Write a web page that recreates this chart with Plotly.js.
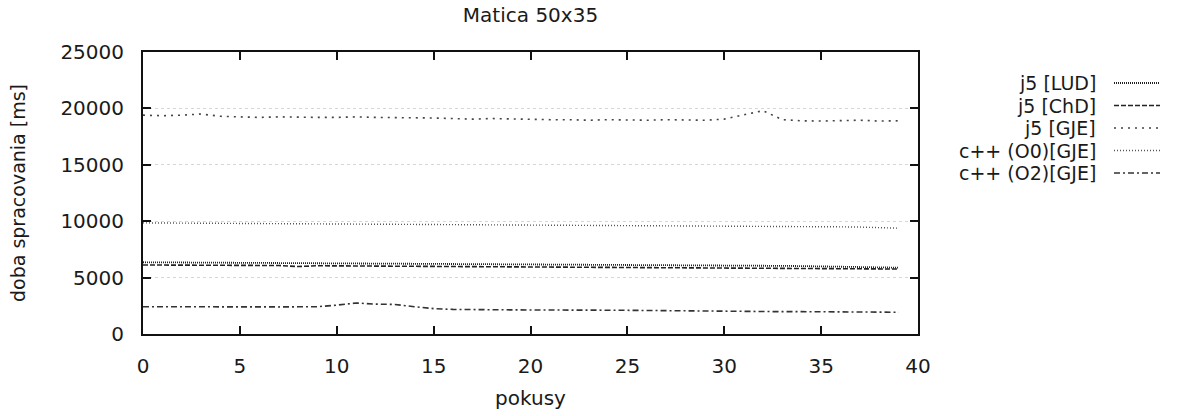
<!DOCTYPE html>
<html>
<head>
<meta charset="utf-8">
<script src="https://cdn.plot.ly/plotly-3.0.1.min.js"></script>
<style>html,body{margin:0;padding:0;background:#fff;}#chart{width:1183px;height:416px;}</style>
</head>
<body>
<div id="chart"></div>
<script>
// attempts (pokusy)
const attempts = [0,1,2,3,4,5,6,7,8,9,10,11,12,13,14,15,16,17,18,19,20,21,22,23,24,25,26,27,28,29,30,31,32,33,34,35,36,37,38,39];

const seriesNames = ["j5 [LUD]", "j5 [ChD]", "j5 [GJE]", "c++ (O0)[GJE]", "c++ (O2)[GJE]"];

const j5LUD = [6360,6350,6340,6350,6330,6320,6330,6300,6310,6290,6300,6280,6270,6280,6260,6250,6260,6240,6230,6220,6210,6220,6200,6190,6180,6170,6160,6140,6120,6100,6090,6070,6050,6040,6020,6000,5980,5950,5920,5880];
const j5ChD = [6120,6110,6100,6110,6090,6080,6090,6070,5980,6050,6040,6030,6030,6020,6010,6000,6000,5990,5990,5980,5980,5970,5960,5960,5950,5940,5930,5920,5910,5900,5890,5880,5870,5860,5850,5840,5820,5800,5780,5760];
const j5GJE = [19400,19350,19400,19500,19300,19250,19200,19250,19200,19200,19200,19250,19200,19200,19150,19150,19100,19050,19100,19050,19050,19000,19000,18950,19000,18950,18950,19000,18950,18950,19050,19400,19800,19000,18900,18880,18900,18950,18880,18900];
const cppO0GJE = [9850,9840,9830,9840,9820,9810,9820,9800,9800,9780,9790,9780,9770,9770,9760,9750,9750,9740,9730,9720,9700,9700,9690,9680,9680,9660,9650,9640,9630,9610,9600,9580,9570,9560,9540,9520,9500,9480,9440,9380];
const cppO2GJE = [2420,2410,2420,2400,2410,2400,2420,2400,2410,2420,2560,2750,2650,2620,2420,2250,2180,2150,2150,2140,2130,2140,2120,2130,2110,2100,2080,2050,2040,2020,2000,1990,1990,1980,1980,1970,1960,1950,1940,1930];

const seriesValues = [j5LUD, j5ChD, j5GJE, cppO0GJE, cppO2GJE];
const seriesDash = ["1px,1px", "5px,2px", "2px,5px", "1px,2px", "6px,3px,2px,3px"];
const seriesColor = ["#222", "#222", "#444", "#555", "#333"];
const seriesWidth = [1.8, 1.6, 1.6, 1.4, 1.6];

const xTicks = [0,5,10,15,20,25,30,35,40];
const yTicks = [0,5000,10000,15000,20000,25000];

const FONT = "DejaVu Sans, Liberation Sans, Arial, sans-serif";
const TXT = "#1a1a1a";

const traces = seriesValues.map((vals, i) => ({
  x: attempts,
  y: vals,
  type: "scatter",
  mode: "lines",
  name: seriesNames[i],
  showlegend: false,
  line: {color: seriesColor[i], width: seriesWidth[i], dash: seriesDash[i]}
}));

// plot area in px: left 143, right 918, top 52, bottom 334
const L = 143, R = 918, T = 52, B = 334;
const px2paperX = p => (p - L) / (R - L);
const px2paperY = p => (B - p) / (B - T);

const legendRowsPx = [83, 105.5, 128, 150.5, 173];
const annotations = [];
const shapes = [];
seriesNames.forEach((nm, i) => {
  annotations.push({
    xref: "paper", yref: "paper",
    x: px2paperX(1098), y: px2paperY(legendRowsPx[i]),
    xanchor: "right", yanchor: "middle",
    text: nm, showarrow: false,
    font: {family: FONT, size: 19, color: TXT}
  });
  shapes.push({
    type: "line", xref: "paper", yref: "paper",
    x0: px2paperX(1114), x1: px2paperX(1160),
    y0: px2paperY(legendRowsPx[i]), y1: px2paperY(legendRowsPx[i]),
    line: {color: seriesColor[i], width: seriesWidth[i], dash: seriesDash[i]}
  });
});

const layout = {
  width: 1183, height: 416,
  margin: {l: L, r: 1183 - R, t: T, b: 416 - B, pad: 0},
  paper_bgcolor: "#fff", plot_bgcolor: "#fff",
  showlegend: false,
  title: {
    text: "Matica 50x35",
    x: 0.5, xref: "paper", xanchor: "center",
    y: 1 - 15 / 416, yref: "container", yanchor: "middle",
    font: {family: FONT, size: 20, color: TXT}
  },
  xaxis: {
    range: [0, 40],
    tickvals: xTicks, ticktext: xTicks.map(String),
    showline: true, linecolor: "#111", linewidth: 2,
    mirror: "ticks", ticks: "inside", ticklen: 8, tickwidth: 2, tickcolor: "#111",
    showgrid: false, zeroline: false,
    ticklabelstandoff: 13,
    tickfont: {family: FONT, size: 20, color: TXT},
    title: {text: "pokusy", standoff: 14, font: {family: FONT, size: 20, color: TXT}}
  },
  yaxis: {
    range: [0, 25000],
    tickvals: yTicks, ticktext: yTicks.map(String),
    showline: true, linecolor: "#111", linewidth: 2,
    mirror: "ticks", ticks: "inside", ticklen: 8, tickwidth: 2, tickcolor: "#111",
    showgrid: true, gridcolor: "#d6d6d6", griddash: "dot", gridwidth: 1,
    zeroline: false,
    ticklabelstandoff: 13,
    tickfont: {family: FONT, size: 20, color: TXT},
    title: {text: "doba spracovania [ms]", standoff: 30, font: {family: FONT, size: 19, color: TXT}}
  },
  annotations: annotations,
  shapes: shapes
};

Plotly.newPlot("chart", traces, layout, {displayModeBar: false, staticPlot: true});
</script>
</body>
</html>
